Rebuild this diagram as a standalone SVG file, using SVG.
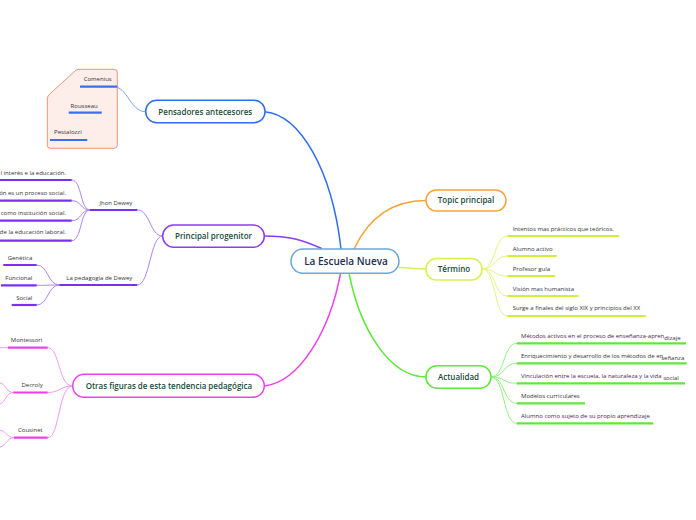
<svg xmlns="http://www.w3.org/2000/svg" width="696" height="520" viewBox="0 0 696 520">
<style>
.n{font-family:"Open Sans","Noto Sans",sans-serif;font-size:8px;font-weight:600;fill:#184c3c;text-anchor:middle}
.c{font-family:"Open Sans","Noto Sans",sans-serif;font-size:10px;font-weight:600;fill:#1b2e4e;text-anchor:middle}
.s{font-family:"Open Sans","Noto Sans",sans-serif;font-size:6px;fill:#333333}
.e{text-anchor:end}
.box{fill:#ffffff;stroke-width:1.5}
.ul{fill:none;stroke-width:2.2}
.cn{fill:none;stroke-width:1}
.mc{fill:none;stroke-width:1.5}
</style>
<rect width="696" height="520" fill="#ffffff"/>

<g id="connectors">
  <path class="mc" d="M265,111.7 C300,115 332,170 341,249" stroke="#2f6cf2"/>
  <path class="mc" d="M264.3,236 C290,236 302,240 321.7,248.5" stroke="#8b3cf7"/>
  <path class="mc" d="M264.3,386 C300,382 330,330 340.5,273.3" stroke="#ee3fee"/>
  <path class="mc" d="M354,249 C370,215 395,200.5 426,200.5" stroke="#f7a23a"/>
  <path class="mc" d="M398.5,267.5 C412,268 414,269 426,269" stroke="#d8f24a"/>
  <path class="mc" d="M349,273 C360,330 390,377 426,377" stroke="#5ee83a"/>

  <g stroke="#7aa0f5">
    <path class="cn" d="M145.7,111.7 C130,111.7 128,86.7 113.3,86.7"/>
    <path class="cn" d="M113.3,86.7 C106,86.7 110,112.7 98.3,112.7"/>
    <path class="cn" d="M96.7,112.7 C88,112.7 95,140 86.7,140"/>
  </g>
  <g stroke="#a884f7">
    <path class="cn" d="M162.7,236 C150,236 150,210 137.3,210"/>
    <path class="cn" d="M162.7,236 C150,236 150,285 137.3,285"/>
    <path class="cn" d="M90,210 C80,210 82,180 71.7,180"/>
    <path class="cn" d="M90,210 C80,210 82,200.7 71.7,200.7"/>
    <path class="cn" d="M90,210 C80,210 82,220.7 71.7,220.7"/>
    <path class="cn" d="M90,210 C80,210 82,240.7 71.7,240.7"/>
    <path class="cn" d="M59.3,285 C48,285 48,265 36.7,265"/>
    <path class="cn" d="M59.3,285 C48,285 48,285.3 36.7,285.3"/>
    <path class="cn" d="M59.3,285 C48,285 48,305 36.7,305"/>
  </g>
  <g stroke="#f39af3">
    <path class="cn" d="M72.7,386 C58,386 60,347.7 47.7,347.7"/>
    <path class="cn" d="M72.7,386 C60,386 60,392.5 47.7,392.5"/>
    <path class="cn" d="M72.7,386 C58,386 60,437.7 47.7,437.7"/>
    <path class="cn" d="M8,347.7 L0,347.7"/>
    <path class="cn" d="M13.3,392.5 C6,392.5 6,384 0,383"/>
    <path class="cn" d="M13.3,392.5 C6,392.5 6,402 0,404"/>
    <path class="cn" d="M14,437.7 C7,437.7 6,431 0,430"/>
    <path class="cn" d="M14,437.7 C7,437.7 6,446 0,447"/>
  </g>
  <g stroke="#e2f57e">
    <path class="cn" d="M482,269 C496,269 494,236 507.3,236"/>
    <path class="cn" d="M482,269 C496,269 494,256 507.3,256"/>
    <path class="cn" d="M482,269 C496,269 494,276 507.3,276"/>
    <path class="cn" d="M482,269 C496,269 494,296 507.3,296"/>
    <path class="cn" d="M482,269 C496,269 494,316 507.3,316"/>
  </g>
  <g stroke="#92f07e">
    <path class="cn" d="M491,377 C505,377 503,343.3 516.7,343.3"/>
    <path class="cn" d="M491,377 C505,377 503,363.3 516.7,363.3"/>
    <path class="cn" d="M491,377 C505,377 503,383.3 516.7,383.3"/>
    <path class="cn" d="M491,377 C505,377 503,403.3 516.7,403.3"/>
    <path class="cn" d="M491,377 C505,377 503,423.3 516.7,423.3"/>
  </g>
</g>

<g id="central">
  <rect x="291" y="249" width="108" height="24.3" rx="12" fill="#ffffff" stroke="#6aa8dc" stroke-width="1.5"/>
  <text class="c" x="346" y="264.6">La Escuela Nueva</text>
</g>

<g id="pensadores">
  <path d="M78,69.3 L114.3,69.3 Q117.3,69.3 117.3,72.3 L117.3,145.3 Q117.3,148.3 114.3,148.3 L50.3,148.3 Q47.3,148.3 47.3,145.3 L47.3,99 Q47.3,96 50,93.8 L75,71 Q76.5,69.3 78,69.3 Z" fill="#fdeee9" stroke="#e8967a" stroke-width="1"/>
  <rect class="box" x="145.7" y="100.3" width="119.3" height="22.4" rx="11" stroke="#2f6cf2"/>
  <text class="n" x="205.3" y="114.6">Pensadores antecesores</text>
</g>
<g id="comenius">
  <text class="s e" x="111.7" y="80.9">Comenius</text>
  <line class="ul" x1="80" y1="86.7" x2="117.3" y2="86.7" stroke="#3a6ff0"/>
</g>
<g id="rousseau">
  <text class="s e" x="97.7" y="108">Rousseau</text>
  <line class="ul" x1="68.7" y1="112.7" x2="101.7" y2="112.7" stroke="#3a6ff0"/>
</g>
<g id="pestalozzi">
  <text class="s e" x="81.7" y="133.8">Pestalozzi</text>
  <line class="ul" x1="50" y1="140" x2="87.3" y2="140" stroke="#3a6ff0"/>
</g>

<g id="progenitor">
  <rect class="box" x="162.7" y="225" width="101.6" height="22.3" rx="11" stroke="#8b3cf7"/>
  <text class="n" x="213.5" y="238.9">Principal progenitor</text>
</g>
<g id="dewey">
  <text class="s e" x="132.3" y="204.8">Jhon Dewey</text>
  <line class="ul" x1="90" y1="210" x2="137.3" y2="210" stroke="#7a30f0"/>
</g>
<g id="d1">
  <text class="s e" x="66" y="175.4">l interés e la educación.</text>
  <line class="ul" x1="0" y1="180" x2="71.7" y2="180" stroke="#7a30f0"/>
</g>
<g id="d2">
  <text class="s e" x="66" y="195.4">ón es un proceso social.</text>
  <line class="ul" x1="0" y1="200.7" x2="71.7" y2="200.7" stroke="#7a30f0"/>
</g>
<g id="d3">
  <text class="s e" x="66" y="214.8">como institución social.</text>
  <line class="ul" x1="0" y1="220.7" x2="71.7" y2="220.7" stroke="#7a30f0"/>
</g>
<g id="d4">
  <text class="s e" x="66" y="234.4">de la educación laboral.</text>
  <line class="ul" x1="0" y1="240.7" x2="71.7" y2="240.7" stroke="#7a30f0"/>
</g>
<g id="pedagogia">
  <text class="s e" x="132.3" y="279.8">La pedagogía de Dewey</text>
  <line class="ul" x1="59.3" y1="285" x2="137.3" y2="285" stroke="#7a30f0"/>
</g>
<g id="genetica">
  <text class="s e" x="32.3" y="259.8">Genética</text>
  <line class="ul" x1="3.3" y1="265" x2="36.7" y2="265" stroke="#7a30f0"/>
</g>
<g id="funcional">
  <text class="s e" x="32.3" y="279.8">Funcional</text>
  <line class="ul" x1="1" y1="285.3" x2="36.7" y2="285.3" stroke="#7a30f0"/>
</g>
<g id="social">
  <text class="s e" x="32.3" y="299.8">Social</text>
  <line class="ul" x1="11.7" y1="305" x2="36.7" y2="305" stroke="#7a30f0"/>
</g>

<g id="otras">
  <rect class="box" x="72.7" y="374.3" width="191.6" height="23" rx="11.5" stroke="#ee3fee"/>
  <text class="n" x="168.9" y="388.9">Otras figuras de esta tendencia pedagógica</text>
</g>
<g id="montessori">
  <text class="s e" x="42.3" y="342.1">Montessori</text>
  <line class="ul" x1="8" y1="347.7" x2="47.7" y2="347.7" stroke="#ee3fee"/>
</g>
<g id="decroly">
  <text class="s e" x="42.7" y="387.1">Decroly</text>
  <line class="ul" x1="13.3" y1="392.5" x2="47.7" y2="392.5" stroke="#ee3fee"/>
</g>
<g id="cousinet">
  <text class="s e" x="42.7" y="432.1">Cousinet</text>
  <line class="ul" x1="14" y1="437.7" x2="47.7" y2="437.7" stroke="#ee3fee"/>
</g>

<g id="topic">
  <rect class="box" x="426" y="190" width="80" height="21" rx="10.5" stroke="#f7a23a"/>
  <text class="n" x="466" y="203.4">Topic principal</text>
</g>

<g id="termino">
  <rect class="box" x="426" y="258.5" width="56" height="21.5" rx="10.5" stroke="#d8f24a"/>
  <text class="n" x="454" y="272">Término</text>
</g>
<g id="t1">
  <text class="s" x="512.7" y="231.1">Intentos mas prácticos que teóricos.</text>
  <line class="ul" x1="507.3" y1="236" x2="619" y2="236" stroke="#cdf03a"/>
</g>
<g id="t2">
  <text class="s" x="512.7" y="251.1">Alumno activo</text>
  <line class="ul" x1="507.3" y1="256" x2="556.7" y2="256" stroke="#cdf03a"/>
</g>
<g id="t3">
  <text class="s" x="512.7" y="271.1">Profesor guía</text>
  <line class="ul" x1="507.3" y1="276" x2="555" y2="276" stroke="#cdf03a"/>
</g>
<g id="t4">
  <text class="s" x="512.7" y="291.1">Visión mas humanista</text>
  <line class="ul" x1="507.3" y1="296" x2="578.3" y2="296" stroke="#cdf03a"/>
</g>
<g id="t5">
  <text class="s" x="512.7" y="310.4">Surge a finales del siglo XIX y principios del XX</text>
  <line class="ul" x1="507.3" y1="316" x2="645.7" y2="316" stroke="#cdf03a"/>
</g>

<g id="actualidad">
  <rect class="box" x="426" y="365.7" width="65" height="22.6" rx="11" stroke="#5ee83a"/>
  <text class="n" x="458.5" y="379.9">Actualidad</text>
</g>
<g id="a1">
  <text class="s" x="521" y="338.1">Métodos activos en el proceso de enseñanza-apren<tspan dy="1.6">dizaje</tspan></text>
  <line class="ul" x1="516.7" y1="343.3" x2="686" y2="343.3" stroke="#5ee83a"/>
</g>
<g id="a2">
  <text class="s" x="521" y="358.1">Enriquecimiento y desarrollo de los métodos de en<tspan dx="-2" dy="1.4">señanza</tspan></text>
  <line class="ul" x1="516.7" y1="363.3" x2="686.7" y2="363.3" stroke="#5ee83a"/>
</g>
<g id="a3">
  <text class="s" x="521" y="378.1">Vinculación entre la escuela, la naturaleza y la vida <tspan dy="1.6">social</tspan></text>
  <line class="ul" x1="516.7" y1="383.3" x2="685" y2="383.3" stroke="#5ee83a"/>
</g>
<g id="a4">
  <text class="s" x="521" y="398.1">Modelos curriculares</text>
  <line class="ul" x1="516.7" y1="403.3" x2="585" y2="403.3" stroke="#5ee83a"/>
</g>
<g id="a5">
  <text class="s" x="521" y="418.1">Alumno como sujeto de su propio aprendizaje</text>
  <line class="ul" x1="516.7" y1="423.3" x2="653.3" y2="423.3" stroke="#5ee83a"/>
</g>
</svg>
